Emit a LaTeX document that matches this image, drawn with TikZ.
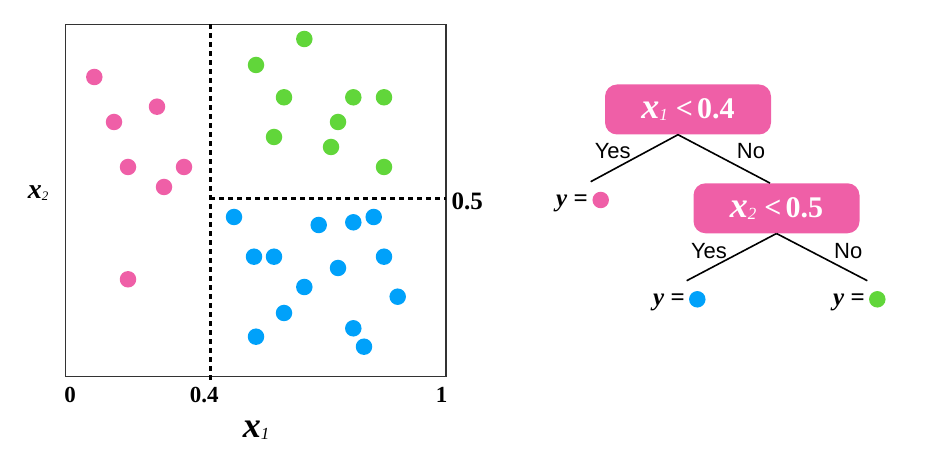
\documentclass[tikz,border=0pt]{standalone}
\usepackage{fontspec}
\setmainfont{Liberation Serif}
\newfontfamily\sansf{Liberation Sans}
\definecolor{cpink}{RGB}{239,95,167}
\definecolor{cgreen}{RGB}{97,214,58}
\definecolor{cblue}{RGB}{0,161,250}
\newcommand{\fsz}[1]{\fontsize{#1bp}{#1bp}\selectfont}
\tikzset{
  dot/.style={circle,inner sep=0pt,minimum size=16.5bp},
  pdot/.style={dot,fill=cpink},
  gdot/.style={dot,fill=cgreen},
  bdot/.style={dot,fill=cblue},
  splitbox/.style={rounded corners=12bp,fill=cpink,text=white,minimum width=166bp,minimum height=50bp,inner sep=0pt,font=\fsz{30}\bfseries},
  edge/.style={line width=1.6bp,black},
  branch/.style={font=\sansf\fsz{22}},
  leaftext/.style={anchor=east,inner sep=0pt,font=\fsz{25}\bfseries},
  ticklab/.style={font=\fsz{23}\bfseries},
  cut/.style={line width=2.8bp,dash pattern=on 5bp off 4bp}
}
\begin{document}
\begin{tikzpicture}[x=1bp,y=-1bp]
\useasboundingbox (0,0) rectangle (944,467);
% plot frame
\draw[line width=1.3bp,black!80] (65.7,24.3) rectangle (446,376.7);
\coordinate (vtop) at (210.3,24.3);
\coordinate (vbot) at (210.3,381);
\coordinate (hl) at (210.3,198.7);
\coordinate (hr) at (446,198.7);
\draw[cut] (vtop) -- (vbot);
\draw[cut] (hl) -- (hr);
% pink points
\node[pdot] (p1) at (94.3,77) {};
\node[pdot] (p2) at (157,106.7) {};
\node[pdot] (p3) at (114,122) {};
\node[pdot] (p4) at (128,167) {};
\node[pdot] (p5) at (184,167) {};
\node[pdot] (p6) at (164,187) {};
\node[pdot] (p7) at (128,279.3) {};
% green points
\node[gdot] (g1) at (304.3,39) {};
\node[gdot] (g2) at (256,65) {};
\node[gdot] (g3) at (284,97.3) {};
\node[gdot] (g4) at (353.3,97.3) {};
\node[gdot] (g5) at (384,97.3) {};
\node[gdot] (g6) at (338,122) {};
\node[gdot] (g7) at (274,137) {};
\node[gdot] (g8) at (331,147) {};
\node[gdot] (g9) at (384,167) {};
% blue points
\node[bdot] (b1) at (234,217) {};
\node[bdot] (b2) at (318.7,225) {};
\node[bdot] (b3) at (353.3,222.3) {};
\node[bdot] (b4) at (373.7,217) {};
\node[bdot] (b5) at (254,256.7) {};
\node[bdot] (b6) at (274,256.7) {};
\node[bdot] (b7) at (384,256.7) {};
\node[bdot] (b8) at (338,268) {};
\node[bdot] (b9) at (304.3,287) {};
\node[bdot] (b10) at (397.7,296.7) {};
\node[bdot] (b11) at (284,313) {};
\node[bdot] (b12) at (353.3,328.3) {};
\node[bdot] (b13) at (256,336.7) {};
\node[bdot] (b14) at (364,346.7) {};
% axis labels
\node[ticklab] (t0) at (70,395) {0};
\node[ticklab] (t04) at (204.3,395) {0.4};
\node[ticklab] (t1) at (441.7,395) {1};
\node[ticklab,anchor=west,inner sep=0pt,font=\fsz{25}\bfseries] (t05) at (451.5,201) {0.5};
\node (xlab) at (256,430) {{\fsz{36}\bfseries\itshape x}\raisebox{-2bp}{\fsz{17}\itshape 1}};
\node (ylab) at (38,193) {{\fsz{28}\bfseries\itshape x}\raisebox{-2bp}{\fsz{13}\itshape 2}};
% tree
\node[splitbox] (root) at (688,109.5) {{\fsz{36}\itshape x}\raisebox{-2bp}{\fsz{17}\mdseries\itshape 1}\hspace{8bp}<\hspace{4bp}0.4};
\node[splitbox] (n2) at (776.5,208.3) {{\fsz{36}\itshape x}\raisebox{-2bp}{\fsz{17}\mdseries\itshape 2}\hspace{8bp}<\hspace{4bp}0.5};
\coordinate (lyes) at (590.7,181.7);
\coordinate (l2yes) at (686.7,280.7);
\coordinate (l2no) at (867.3,280.7);
\draw[edge] ([xshift=-10bp]root.south) -- (lyes);
\draw[edge] ([xshift=-10bp]root.south) -- ([xshift=-6.5bp]n2.north);
\draw[edge] (n2.south) -- (l2yes);
\draw[edge] (n2.south) -- (l2no);
\node[branch] (yes1) at (612.7,151.5) {Yes};
\node[branch] (no1) at (751,151.5) {No};
\node[branch] (yes2) at (709,251.5) {Yes};
\node[branch] (no2) at (848.3,251.5) {No};
% leaves
\node[pdot] (leafp) at (600.7,200) {};
\node[leaftext] (leafpt) at (588,203) {{\itshape y} =};
\node[bdot] (leafb) at (697.3,299.3) {};
\node[leaftext] (leafbt) at (685,302.3) {{\itshape y} =};
\node[gdot] (leafg) at (877.3,299.3) {};
\node[leaftext] (leafgt) at (865,302.3) {{\itshape y} =};
\end{tikzpicture}
\end{document}
